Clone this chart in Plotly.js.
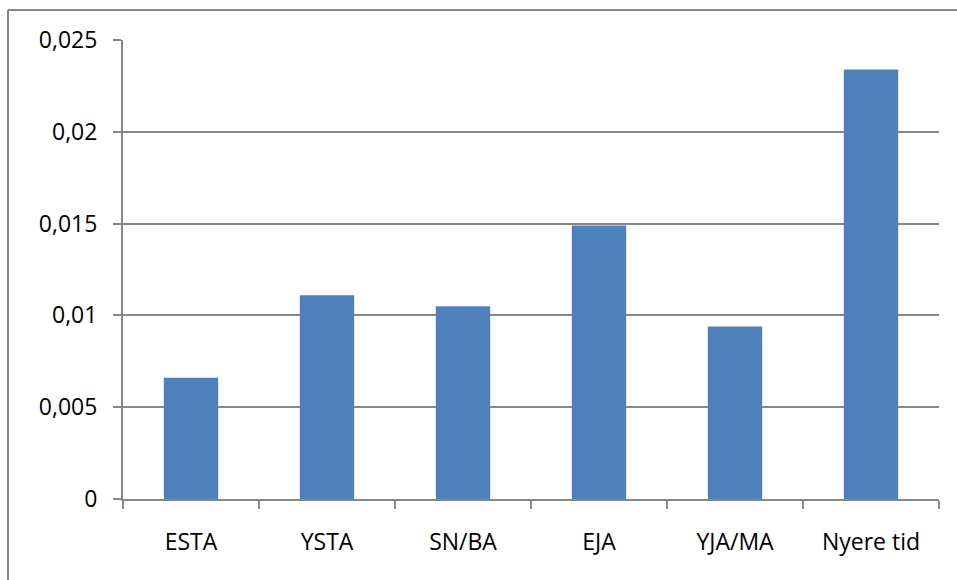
<!DOCTYPE html>
<html>
<head>
<meta charset="utf-8">
<script src="https://cdn.plot.ly/plotly-3.0.1.min.js"></script>
<style>
html,body{margin:0;padding:0;background:#fff;}
#chart{width:957px;height:580px;}
</style>
</head>
<body>
<div id="chart"></div>
<script>
const categories = ["ESTA", "YSTA", "SN/BA", "EJA", "YJA/MA", "Nyere tid"];
const values = [0.0066, 0.0111, 0.0105, 0.0149, 0.0094, 0.0234];
const yTickVals = [0, 0.005, 0.01, 0.015, 0.02, 0.025];
const yTickText = ["0", "0,005", "0,01", "0,015", "0,02", "0,025"];

const L = 123, R = 18, T = 40, B = 81, W = 957, H = 580;
const pw = W - L - R, ph = H - T - B;
const px = v => (v - L) / pw;
const py = v => (H - B - v) / ph;

const gridColor = "#878787";
const fnt = {family: "Open Sans, sans-serif", size: 23, color: "#000"};

const trace = {
  type: "bar",
  x: categories,
  y: values,
  marker: {color: "#4F81BD", line: {width: 0}},
  hoverinfo: "x+y"
};

const layout = {
  width: W, height: H,
  margin: {l: L, r: R, t: T, b: B, pad: 0},
  paper_bgcolor: "#fff",
  plot_bgcolor: "#fff",
  showlegend: false,
  bargap: 0.6,
  font: fnt,
  xaxis: {
    type: "category",
    tickson: "boundaries",
    ticks: "outside",
    ticklen: 8,
    tickwidth: 2,
    tickcolor: gridColor,
    showline: true,
    linecolor: gridColor,
    linewidth: 2,
    showgrid: false,
    zeroline: false,
    ticklabelstandoff: 21,
    tickfont: fnt,
    fixedrange: true
  },
  yaxis: {
    range: [0, 0.025],
    tickvals: yTickVals,
    ticktext: yTickText,
    ticks: "outside",
    ticklen: 8,
    tickwidth: 2,
    tickcolor: gridColor,
    showline: true,
    linecolor: gridColor,
    linewidth: 2,
    showgrid: true,
    gridcolor: gridColor,
    gridwidth: 2,
    zeroline: false,
    ticklabelstandoff: 11,
    tickfont: fnt,
    fixedrange: true
  },
  shapes: [
    {type: "line", xref: "paper", yref: "paper", x0: px(8), x1: px(W + 10), y0: py(10), y1: py(10),
     line: {color: gridColor, width: 2}, layer: "above"},
    {type: "line", xref: "paper", yref: "paper", x0: px(8), x1: px(8), y0: py(10), y1: py(H + 10),
     line: {color: gridColor, width: 2}, layer: "above"}
  ]
};

Plotly.newPlot("chart", [trace], layout, {displayModeBar: false, staticPlot: true});
</script>
</body>
</html>
